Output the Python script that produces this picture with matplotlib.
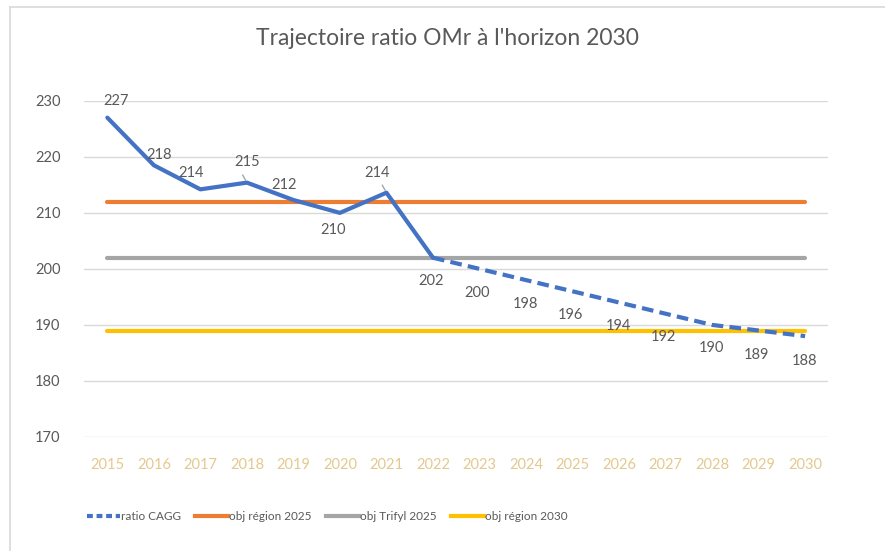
import matplotlib
matplotlib.use("Agg")
import matplotlib.pyplot as plt
from matplotlib.lines import Line2D

plt.rcParams['font.family'] = ['Lato', 'DejaVu Sans']

# données
annees = [str(a) for a in range(2015, 2031)]
ratio_cagg = [227, 218.5, 214.2, 215.4, 212.3, 210, 213.6, 202,
              200, 198, 196, 194, 192, 190, 189, 188]
labels_ratio = ["227", "218", "214", "215", "212", "210", "214", "202",
                "200", "198", "196", "194", "192", "190", "189", "188"]
obj_region_2025 = [212] * 16
obj_trifyl_2025 = [202] * 16
obj_region_2030 = [189] * 16

# décalage des étiquettes (pixels)
decalages = [(9, 17), (5, 10), (-9, 16), (0, 21), (-9, 15), (-7, -17), (-9, 20), (-2, -23),
             (-2, -24), (-1, -24), (-2, -24), (-1, -24), (-2, -23), (-1, -23), (-2, -24), (-1, -25)]
bleu = "#4472C4"
orange = "#ED7D31"
gris = "#A5A5A5"
jaune = "#FFC000"

fig = plt.figure(figsize=(8.85, 5.51), dpi=100)
ax = fig.add_axes([0.095, 0.207, 0.841, 0.610])

x = list(range(len(annees)))
ax.plot(x, obj_region_2025, color=orange, lw=3, solid_capstyle='round', zorder=2)
ax.plot(x, obj_trifyl_2025, color=gris, lw=3, solid_capstyle='round', zorder=2)
ax.plot(x, obj_region_2030, color=jaune, lw=3, solid_capstyle='round', zorder=2)
ax.plot(x[:8], ratio_cagg[:8], color=bleu, lw=3, solid_capstyle='round',
        solid_joinstyle='round', zorder=3)
ax.plot(x[7:], ratio_cagg[7:], color=bleu, lw=3, dashes=(2.8, 1.5),
        dash_capstyle='butt', zorder=3)

for i, (xi, yi) in enumerate(zip(x, ratio_cagg)):
    dx, dy = decalages[i]
    ax.annotate(labels_ratio[i], (xi, yi), xytext=(dx, dy), textcoords='offset pixels',
                ha='center', va='center', fontsize=10.5, color='#595959', zorder=4)
# traits de rappel
for i in (3, 6):
    ax.annotate("", (x[i], ratio_cagg[i]), xytext=(x[i] - 0.12, ratio_cagg[i] + 1.8),
                arrowprops=dict(arrowstyle='-', color='#A5A5A5', lw=1))

ax.set_xlim(-0.5, 15.5)
ax.set_ylim(170, 230)
ax.set_yticks(range(170, 231, 10))
ax.set_xticks(x)
ax.set_xticklabels(annees)
ax.grid(axis='y', color='#D9D9D9', lw=1)
ax.set_axisbelow(True)
for s in ax.spines.values():
    s.set_visible(False)
ax.tick_params(axis='both', length=0)
ax.tick_params(axis='y', labelsize=10.5, labelcolor='#595959', pad=17)
ax.tick_params(axis='x', labelsize=10.5, labelcolor='#E4C98F', pad=15)

fig.text(0.506, 0.931, "Trajectoire ratio OMr à l'horizon 2030", ha='center', va='center',
         fontsize=16.5, color='#595959')

handles = [Line2D([], [], color=bleu, lw=3, dashes=(1.4, 0.9)),
           Line2D([], [], color=orange, lw=3),
           Line2D([], [], color=gris, lw=3),
           Line2D([], [], color=jaune, lw=3)]
noms = ["ratio CAGG", "obj région 2025", "obj Trifyl 2025", "obj région 2030"]
fig.legend(handles, noms, loc='center left', bbox_to_anchor=(0.098, 0.062), ncol=4,
           frameon=False, fontsize=8.5, labelcolor='#595959', handlelength=2.8,
           handletextpad=0.1, columnspacing=1.2, borderaxespad=0, borderpad=0)

# bordure du cadre
fig.add_artist(Line2D([0.011, 1.0], [0.987, 0.987], transform=fig.transFigure,
                      color='#D9D9D9', lw=1.2))
fig.add_artist(Line2D([0.011, 0.011], [0.0, 0.987], transform=fig.transFigure,
                      color='#D9D9D9', lw=1.2))

fig.savefig("out.png", dpi=100)
